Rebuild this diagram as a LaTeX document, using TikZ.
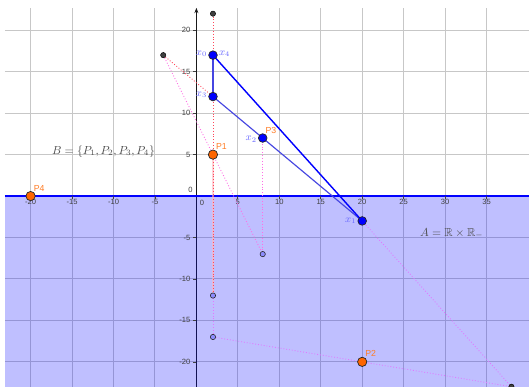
\documentclass[tikz,border=0pt]{standalone}
\usepackage{fontspec}
\setsansfont{Liberation Sans}
\usepackage{amsmath,amssymb}
\usetikzlibrary{arrows.meta,positioning,calc}

\definecolor{naranja}{RGB}{255,102,0}
\definecolor{azulmed}{RGB}{70,70,225}
\definecolor{rojopunto}{RGB}{255,70,90}
\definecolor{rosapunto}{RGB}{255,110,230}
\definecolor{lilapunto}{RGB}{225,120,255}

\begin{document}
\begin{tikzpicture}[
            x=0.25cm, y=0.25cm,
            rejilla/.style={black!22, line width=0.9pt},
            numero/.style={font=\sffamily\fontsize{6.5}{7}\selectfont, text=black!75, inner sep=1pt},
            punto/.style={circle, draw=black!85, line width=0.6pt, inner sep=0pt, minimum size=2.6mm},
            pazul/.style={punto, fill=blue},
            pnaranja/.style={punto, fill=naranja, minimum size=2.8mm},
            paux/.style={circle, draw=black!85, line width=0.5pt, fill=blue!45, inner sep=0pt, minimum size=1.6mm},
            pnegro/.style={circle, draw=black, fill=black!75, line width=0.4pt, inner sep=0pt, minimum size=1.6mm},
            etiqx/.style={text=blue!60, font=\small, inner sep=1pt},
            etiqp/.style={text=naranja!85!white, font=\sffamily\fontsize{7.5}{9}\selectfont, inner sep=1pt},
            punteado/.style={line width=0.75pt, dash pattern=on 0.75pt off 1.7pt}
        ]

        % Marco de la figura
        \useasboundingbox (-23.69,-23.03) rectangle (40.12,23.65);
        \fill[white] (-23.69,-23.03) rectangle (40.12,23.65);

        % Rejilla cada 5 unidades
        \foreach \i in {-20,-15,...,35}
            \draw[rejilla] (\i,-23.03) -- (\i,22.69);
        \foreach \j in {-20,-15,...,20}
            \draw[rejilla] (-23.09,\j) -- (40.12,\j);

        % Eje vertical (debajo del sombreado)
        \draw[black!90, line width=0.9pt, -{Stealth[length=1.6mm, width=1.2mm]}] (0,-23.03) -- (0,22.7);

        % Semiplano A (y <= 0)
        \fill[blue, opacity=0.25] (-23.09,-23.03) rectangle (40.12,0);
        \draw[blue, line width=1.3pt] (-23.09,0) -- (40.12,0);

        % Marcas y numeros de los ejes
        \foreach \i in {-20,-15,...,35} {
            \ifnum\i=0 \else
                \draw[black!75, line width=0.6pt] (\i,0) -- (\i,-0.35);
                \node[numero, below=1.5pt] (tx\i) at (\i,0) {\i};
            \fi
        }
        \foreach \j in {-20,-15,...,20} {
            \ifnum\j=0 \else
                \draw[black!75, line width=0.6pt] (0,\j) -- (-0.35,\j);
                \node[numero, left=1.5pt] (ty\j) at (-0.35,\j) {\j};
            \fi
        }
        \node[numero, anchor=north west] (tx0) at (0.25,-0.35) {0};
        \node[numero, anchor=south east] (ty0) at (-0.3,0.2) {0};

        % Puntos de la construccion
        \coordinate (x0) at (2,17);
        \coordinate (x3) at (2,12);
        \coordinate (x2) at (8,7);
        \coordinate (x1) at (20,-3);
        \coordinate (p1) at (2,5);
        \coordinate (p2) at (20,-20);
        \coordinate (p4) at (-20,0);
        \coordinate (n1) at (2,22);
        \coordinate (n2) at (-4,17);
        \coordinate (n3) at (38,-23);
        \coordinate (a1) at (8,-7);
        \coordinate (a2) at (2,-12);
        \coordinate (a3) at (2,-17);

        % Lineas auxiliares punteadas
        \draw[rojopunto!40, line width=1.6pt, opacity=0.6] (p1) -- (a2);
        \draw[punteado, rojopunto] (n1) -- (a2);
        \draw[punteado, rojopunto] (n2) -- (x3);
        \draw[punteado, rosapunto] (n2) -- (a1);
        \draw[punteado, rosapunto] (x2) -- (a1);
        \draw[punteado, lilapunto] (a2) -- (a3);
        \draw[punteado, lilapunto] (a3) -- (n3);
        \draw[punteado, lilapunto] (x1) -- (n3);

        % Poligonal azul
        \draw[azulmed, line width=1.6pt] (x0) -- (x3);
        \draw[azulmed, line width=1pt] (x3) -- (x1);
        \draw[blue, line width=1.2pt] (x0) -- (x1);

        % Puntos
        \node[pnegro] (N1) at (n1) {};
        \node[pnegro] (N2) at (n2) {};
        \node[pnegro] (N3) at (n3) {};
        \node[paux] (A1) at (a1) {};
        \node[paux] (A2) at (a2) {};
        \node[paux] (A3) at (a3) {};
        \node[pazul] (X0) at (x0) {};
        \node[pazul] (X3) at (x3) {};
        \node[pazul] (X2) at (x2) {};
        \node[pazul] (X1) at (x1) {};
        \node[pnaranja] (P1) at (p1) {};
        \node[pnaranja] (P2) at (p2) {};
        \node[pnaranja] (P4) at (p4) {};

        % Etiquetas de los puntos
        \node[etiqx, left=0pt of X0, yshift=1.5pt] (lx0) {$x_0$};
        \node[etiqx, right=0pt of X0, yshift=1.5pt] (lx4) {$x_4$};
        \node[etiqx, left=0pt of X3, yshift=1.5pt] (lx3) {$x_3$};
        \node[etiqx, left=0pt of X2, yshift=-1pt] (lx2) {$x_2$};
        \node[etiqx, left=0pt of X1] (lx1) {$x_1$};
        \node[etiqp, above right=0pt and -1.5pt of P1] (lp1) {P1};
        \node[etiqp, above right=0pt and -1.5pt of X2] (lp3) {P3};
        \node[etiqp, above right=0pt and -1.5pt of P4] (lp4) {P4};
        \node[etiqp, above right=0pt and -1.5pt of P2] (lp2) {P2};

        % Conjuntos
        \node[text=black!70] (conjB) at (-11.2,5.4) {$B=\{P_1,P_2,P_3,P_4\}$};
        \node[text=black!70] (conjA) at (30.8,-4.5) {$A=\mathbb{R}\times\mathbb{R}_-$};

    \end{tikzpicture}
\end{document}
